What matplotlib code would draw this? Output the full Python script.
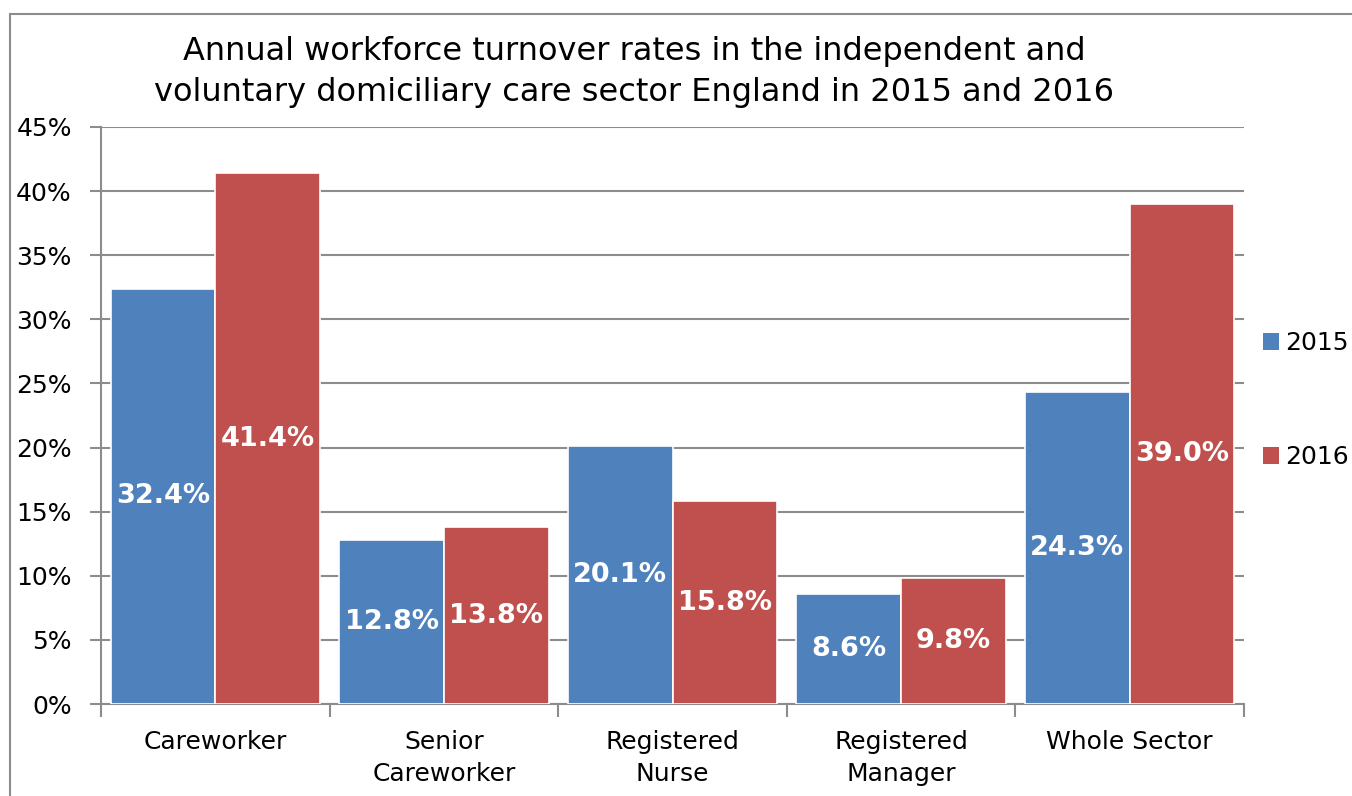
import numpy as np
import matplotlib
matplotlib.use("Agg")
import matplotlib.pyplot as plt
from matplotlib.patches import Patch
from matplotlib.lines import Line2D

categories = ["Careworker", "Senior\nCareworker", "Registered\nNurse",
              "Registered\nManager", "Whole Sector"]
rates_2015 = [32.4, 12.8, 20.1, 8.6, 24.3]
rates_2016 = [41.4, 13.8, 15.8, 9.8, 39.0]
series_names = ["2015", "2016"]
yticks = [0, 5, 10, 15, 20, 25, 30, 35, 40, 45]

BLUE = "#4F81BD"
RED = "#C0504D"
GRID = "#8C8C8C"

W, H = 1352, 796
fig = plt.figure(figsize=(W / 100, H / 100), dpi=100)

# outer chart border (cropped on the right and bottom)
fig.add_artist(Line2D([10 / W, 10 / W], [0, 1 - 14 / H], transform=fig.transFigure,
                      color=GRID, lw=1.5))
fig.add_artist(Line2D([10 / W, 1.0], [1 - 14 / H, 1 - 14 / H], transform=fig.transFigure,
                      color=GRID, lw=1.5))

ax = fig.add_axes([101 / W, (H - 704) / H, (1244 - 101) / W, (704 - 127) / H])

x = np.arange(len(categories))
bw = 0.458
off = 0.229
b1 = ax.bar(x - off, rates_2015, bw, color=BLUE, edgecolor="white", lw=1.2, zorder=3)
b2 = ax.bar(x + off, rates_2016, bw, color=RED, edgecolor="white", lw=1.2, zorder=3)

for bars, vals in ((b1, rates_2015), (b2, rates_2016)):
    for rect, v in zip(bars, vals):
        ax.text(rect.get_x() + rect.get_width() / 2, v / 2, f"{v:.1f}%",
                ha="center", va="center", color="white", fontsize=19.5,
                fontweight="bold", zorder=4)

ax.set_xlim(-0.5, len(categories) - 0.5)
ax.set_ylim(0, 45)
ax.set_yticks(yticks)
ax.set_yticklabels([f"{t}%" for t in yticks])
ax.yaxis.grid(True, color=GRID, lw=1.5, zorder=0)
ax.set_axisbelow(True)

ax.set_xticks(x)
ax.set_xticklabels(categories, linespacing=1.4)
ax.set_xticks(np.arange(-0.5, len(categories)), minor=True)
ax.tick_params(axis="x", which="major", length=0, pad=19, labelsize=18)
ax.tick_params(axis="x", which="minor", length=9, width=1.5, color=GRID, direction="out")
ax.tick_params(axis="y", length=8, width=1.5, color=GRID, pad=13, labelsize=18)

for s in ("top", "right"):
    ax.spines[s].set_visible(False)
for s in ("left", "bottom"):
    ax.spines[s].set_color(GRID)
    ax.spines[s].set_linewidth(1.5)

fig.text(634 / W, 1 - 72 / H,
         "Annual workforce turnover rates in the independent and\n"
         "voluntary domiciliary care sector England in 2015 and 2016",
         ha="center", va="center", fontsize=23, linespacing=1.38)

handles = [Patch(facecolor=BLUE), Patch(facecolor=RED)]
fig.legend(handles, series_names, loc="center left",
           bbox_to_anchor=(1263 / W, 1 - 400 / H), frameon=False,
           fontsize=18, handlelength=0.65, handleheight=0.65,
           handletextpad=0.25, labelspacing=3.6, borderpad=0, borderaxespad=0)

fig.savefig("out.png", dpi=100)
